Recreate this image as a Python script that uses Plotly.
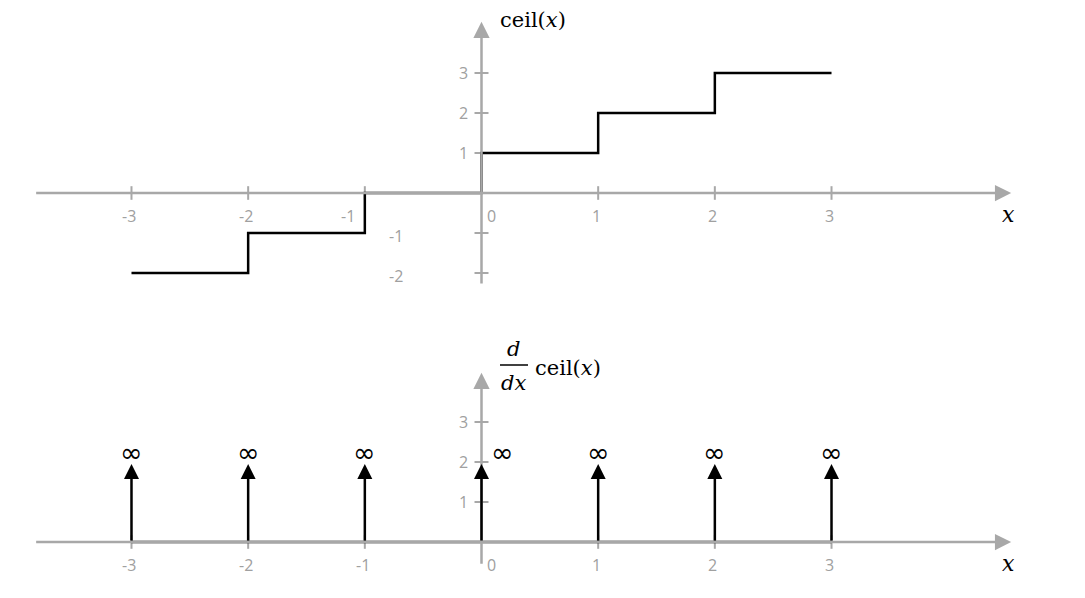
import plotly.graph_objects as go
from plotly.subplots import make_subplots

# ---------------- data ----------------
x_ticks = [-3, -2, -1, 0, 1, 2, 3]
x_tick_labels = ["-3", "-2", "-1", "0", "1", "2", "3"]
step_x = [-3, -2, -1, 0, 1, 2, 3]
ceil_y = [-2, -1, 0, 1, 2, 3, 3]
top_y_ticks = [3, 2, 1, -1, -2]
top_y_labels = ["3", "2", "1", "-1", "-2"]
bottom_y_ticks = [3, 2, 1]
bottom_y_labels = ["3", "2", "1"]
impulse_x = [-3, -2, -1, 0, 1, 2, 3]
impulse_h = [1.95, 1.95, 1.95, 1.95, 1.95, 1.95, 1.95]
impulse_label = ["∞", "∞", "∞", "∞", "∞", "∞", "∞"]

# axis extents (data units)
x_axis_span = [-3.83, 4.54]
top_y_span = [-2.3, 4.28]
bot_y_span = [-0.58, 4.23]

GRAY = "rgb(168,168,168)"
LABEL = "rgb(160,160,160)"
OFF = 8  # page body margin
W, H = 1085 - 2 * OFF, 598 - 2 * OFF
X0, SX = 481.5, 116.67   # screen px of x=0, px per unit
Y0T, Y0B, SY = 193, 542, 40
SPLIT_PX = 300

fig = make_subplots(rows=2, cols=1, vertical_spacing=0)
fig.update_layout(
    width=W, height=H, margin=dict(l=0, r=0, t=0, b=0),
    plot_bgcolor="white", paper_bgcolor="white", showlegend=False,
)
split = 1 - (SPLIT_PX - OFF) / H
xr = [(OFF - X0) / SX, (OFF + W - X0) / SX]
for ax in ["xaxis", "xaxis2"]:
    fig.layout[ax].update(range=xr, visible=False, fixedrange=True)
fig.layout.yaxis.update(domain=[split, 1], range=[(Y0T - SPLIT_PX) / SY, (Y0T - OFF) / SY],
                        visible=False, fixedrange=True)
fig.layout.yaxis2.update(domain=[0, split], range=[(Y0B - OFF - H) / SY, (Y0B - SPLIT_PX) / SY],
                         visible=False, fixedrange=True)

TICKFONT = dict(family="Open Sans", size=16, color=LABEL)


def axes(row, yspan, yticks, ylabels):
    xa = "x" if row == 1 else "x2"
    ya = "y" if row == 1 else "y2"
    # x axis arrow
    fig.add_annotation(x=x_axis_span[1], y=0, ax=x_axis_span[0], ay=0, xref=xa, yref=ya,
                       axref=xa, ayref=ya, text="", showarrow=True, arrowhead=2,
                       arrowsize=1.3, arrowwidth=2.5, arrowcolor=GRAY, standoff=0)
    # y axis arrow
    fig.add_annotation(x=0, y=yspan[1], ax=0, ay=yspan[0], xref=xa, yref=ya,
                       axref=xa, ayref=ya, text="", showarrow=True, arrowhead=2,
                       arrowsize=1.3, arrowwidth=2.5, arrowcolor=GRAY, standoff=0)
    # x ticks
    tx, ty = [], []
    for v in x_ticks:
        if v == 0:
            continue
        tx += [v, v, None]
        ty += [-0.17, 0.17, None]
    fig.add_trace(go.Scatter(x=tx, y=ty, mode="lines", line=dict(color=GRAY, width=2),
                             hoverinfo="skip"), row=row, col=1)
    # y ticks
    tx, ty = [], []
    for v in yticks:
        tx += [-0.06, 0.06, None]
        ty += [v, v, None]
    fig.add_trace(go.Scatter(x=tx, y=ty, mode="lines", line=dict(color=GRAY, width=2),
                             hoverinfo="skip"), row=row, col=1)
    # x tick labels
    for v, lab in zip(x_ticks, x_tick_labels):
        if v == 0:
            xs, anc = 3, "left"
        elif row == 1 and v == -1:
            xs, anc = -17, "center"
        else:
            xs, anc = -2, "center"
        fig.add_annotation(x=v, y=0, xref=xa, yref=ya, text=lab, showarrow=False,
                           xanchor=anc, xshift=xs, yanchor="middle", yshift=-23,
                           font=TICKFONT)
    # y tick labels
    for v, lab in zip(yticks, ylabels):
        fig.add_annotation(x=0, y=v, xref=xa, yref=ya, text=lab, showarrow=False,
                           xanchor="right", xshift=(-77 if v < 0 else -12),
                           yshift=(-3 if v < 0 else 0), font=TICKFONT)


axes(1, top_y_span, top_y_ticks, top_y_labels)
axes(2, bot_y_span, bottom_y_ticks, bottom_y_labels)

# ceil step function
fig.add_trace(go.Scatter(x=step_x, y=ceil_y, mode="lines",
                         line=dict(color="black", width=2.5, shape="hv"),
                         hoverinfo="skip"), row=1, col=1)

# derivative: baseline and impulses
fig.add_trace(go.Scatter(x=[impulse_x[0], impulse_x[-1]], y=[0, 0], mode="lines",
                         line=dict(color="black", width=2.5), hoverinfo="skip"), row=2, col=1)
for xv, h, lab in zip(impulse_x, impulse_h, impulse_label):
    fig.add_annotation(x=xv, y=h, ax=xv, ay=0, xref="x2", yref="y2", axref="x2", ayref="y2",
                       text="", showarrow=True, arrowhead=2, arrowsize=1.2, arrowwidth=2.5,
                       arrowcolor="black", standoff=0)
    fig.add_annotation(x=xv, y=h, xref="x2", yref="y2", text=lab, showarrow=False,
                       xanchor="center", yanchor="middle", yshift=12,
                       xshift=(21 if xv == 0 else 0),
                       font=dict(family="DejaVu Sans", size=27, color="black"))

SERIF = "DejaVu Serif"
TFONT = dict(family=SERIF, size=21, color="black")
# axis titles
fig.add_annotation(x=(498 - X0) / SX, y=(Y0T - 20) / SY, xref="x", yref="y",
                   text="ceil(<i>x</i>)", showarrow=False, xanchor="left", yanchor="middle",
                   font=TFONT)
for ya, yc in [("y", 0), ("y2", 0)]:
    fig.add_annotation(x=x_axis_span[1], y=yc, xref="x" if ya == "y" else "x2", yref=ya,
                       text="<i>x</i>", showarrow=False, xanchor="center", yanchor="middle",
                       xshift=-3, yshift=-21, font=dict(family=SERIF, size=22, color="black"))
# d/dx ceil(x)
fig.add_annotation(x=(513 - X0) / SX, y=(Y0B - 349) / SY, xref="x2", yref="y2", text="<i>d</i>",
                   showarrow=False, xanchor="center", yanchor="middle", font=TFONT)
fig.add_annotation(x=(513 - X0) / SX, y=(Y0B - 383) / SY, xref="x2", yref="y2", text="<i>dx</i>",
                   showarrow=False, xanchor="center", yanchor="middle", font=TFONT)
fig.add_annotation(x=(533 - X0) / SX, y=(Y0B - 368) / SY, xref="x2", yref="y2",
                   text="ceil(<i>x</i>)", showarrow=False, xanchor="left", yanchor="middle",
                   font=TFONT)
fig.add_shape(type="line", xref="x2", yref="y2", x0=(500 - X0) / SX, x1=(528 - X0) / SX,
              y0=(Y0B - 365) / SY, y1=(Y0B - 365) / SY, line=dict(color="black", width=1.5))

fig.write_html("out.html")
